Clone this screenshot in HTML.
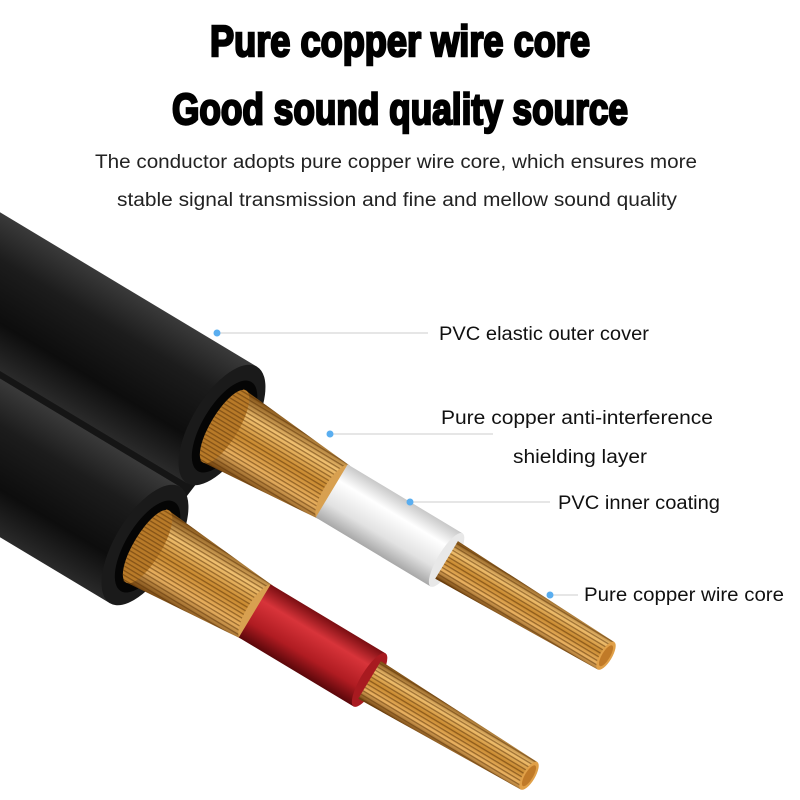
<!DOCTYPE html>
<html><head><meta charset="utf-8"><style>html,body{margin:0;padding:0;background:#fff}svg{display:block}</style></head>
<body>
<svg width="800" height="800" viewBox="0 0 800 800" xmlns="http://www.w3.org/2000/svg">
<defs>
<linearGradient id="jk" x1="0" y1="0" x2="0" y2="1">
<stop offset="0" stop-color="#3a3a3a"/><stop offset="0.3" stop-color="#1c1c1c"/><stop offset="0.7" stop-color="#0d0d0d"/><stop offset="1" stop-color="#2a2a2a"/>
</linearGradient>
<linearGradient id="cu" x1="0" y1="0" x2="0" y2="1">
<stop offset="0" stop-color="#7a4a10"/><stop offset="0.25" stop-color="#f0c070"/><stop offset="0.5" stop-color="#c98a30"/><stop offset="0.75" stop-color="#e8b060"/><stop offset="1" stop-color="#6a3c0a"/>
</linearGradient>
<pattern id="str" width="40" height="4" patternUnits="userSpaceOnUse">
<rect width="40" height="1.3" fill="#5a3208" opacity="0.55"/>
</pattern>
<linearGradient id="wh" x1="0" y1="0" x2="0" y2="1">
<stop offset="0" stop-color="#c8c8c8"/><stop offset="0.3" stop-color="#ffffff"/><stop offset="0.7" stop-color="#e2e2e2"/><stop offset="1" stop-color="#a8a8a8"/>
</linearGradient>
<linearGradient id="rd" x1="0" y1="0" x2="0" y2="1">
<stop offset="0" stop-color="#7a0e12"/><stop offset="0.3" stop-color="#d8343a"/><stop offset="0.7" stop-color="#b01c22"/><stop offset="1" stop-color="#5a070a"/>
</linearGradient>
<g id="cable">
<rect x="-520" y="-68" width="520" height="136" fill="url(#jk)"/>
<ellipse cx="0" cy="0" rx="30" ry="68" fill="#1a1a1a"/>
<ellipse cx="3" cy="0" rx="22" ry="52" fill="#050505"/>
<polygon points="0,-42 130,-31 130,31 0,42" fill="url(#cu)"/>
<polygon points="0,-42 130,-31 130,31 0,42" fill="url(#str)"/>
<ellipse cx="3" cy="0" rx="14" ry="42" fill="#b87a28"/>
<ellipse cx="3" cy="0" rx="14" ry="42" fill="url(#str)"/>
<ellipse cx="130" cy="0" rx="10" ry="31" fill="#d8a050"/>
</g>
<g id="core">
<polygon points="262,-22 448,-16 448,16 262,22" fill="url(#cu)"/>
<polygon points="262,-22 448,-16 448,16 262,22" fill="url(#str)"/>
<ellipse cx="448" cy="0" rx="6" ry="16" fill="#e0a048"/>
<ellipse cx="448" cy="0" rx="4" ry="12" fill="#c07a28"/>
</g>
</defs>

<text x="400" y="56" text-anchor="middle" textLength="380" lengthAdjust="spacingAndGlyphs" font-family="Liberation Sans Narrow, Liberation Sans, sans-serif" font-weight="bold" font-size="44" stroke="#000" stroke-width="2.4">Pure copper wire core</text>
<text x="400" y="124" text-anchor="middle" textLength="456" lengthAdjust="spacingAndGlyphs" font-family="Liberation Sans Narrow, Liberation Sans, sans-serif" font-weight="bold" font-size="44" stroke="#000" stroke-width="2.4">Good sound quality source</text>
<text x="396" y="168" text-anchor="middle" textLength="602" lengthAdjust="spacingAndGlyphs" font-family="Liberation Sans, sans-serif" font-size="19" fill="#222">The conductor adopts pure copper wire core, which ensures more</text>
<text x="397" y="206" text-anchor="middle" textLength="560" lengthAdjust="spacingAndGlyphs" font-family="Liberation Sans, sans-serif" font-size="19" fill="#222">stable signal transmission and fine and mellow sound quality</text>

<polygon points="0,300 230,440 180,505 0,430" fill="#151515"/>

<!-- top cable -->
<g transform="translate(222,425) rotate(31)">
<use href="#cable"/>
<rect x="128" y="-31" width="134" height="62" fill="url(#wh)"/>
<ellipse cx="262" cy="0" rx="9" ry="31" fill="#e8e8e8"/>
<use href="#core"/>
</g>
<!-- bottom cable -->
<g transform="translate(145,545) rotate(31)">
<use href="#cable"/>
<rect x="128" y="-31" width="134" height="62" fill="url(#rd)"/>
<ellipse cx="262" cy="0" rx="9" ry="31" fill="#a81a20"/>
<use href="#core"/>
</g>

<g stroke="#d8d8d8" stroke-width="1.2">
<line x1="217" y1="333" x2="428" y2="333"/>
<line x1="330" y1="434" x2="493" y2="434"/>
<line x1="410" y1="502" x2="550" y2="502"/>
<line x1="550" y1="595" x2="578" y2="595"/>
</g>
<g fill="#5aaef0">
<circle cx="217" cy="333" r="3.5"/><circle cx="330" cy="434" r="3.5"/><circle cx="410" cy="502" r="3.5"/><circle cx="550" cy="595" r="3.5"/>
</g>
<g font-family="Liberation Sans, sans-serif" font-size="19" fill="#111">
<text x="439" y="340" textLength="210" lengthAdjust="spacingAndGlyphs">PVC elastic outer cover</text>
<text x="441" y="424" textLength="272" lengthAdjust="spacingAndGlyphs">Pure copper anti-interference</text>
<text x="513" y="463" textLength="134" lengthAdjust="spacingAndGlyphs">shielding layer</text>
<text x="558" y="509" textLength="162" lengthAdjust="spacingAndGlyphs">PVC inner coating</text>
<text x="584" y="601" textLength="200" lengthAdjust="spacingAndGlyphs">Pure copper wire core</text>
</g>
</svg>
</body></html>
